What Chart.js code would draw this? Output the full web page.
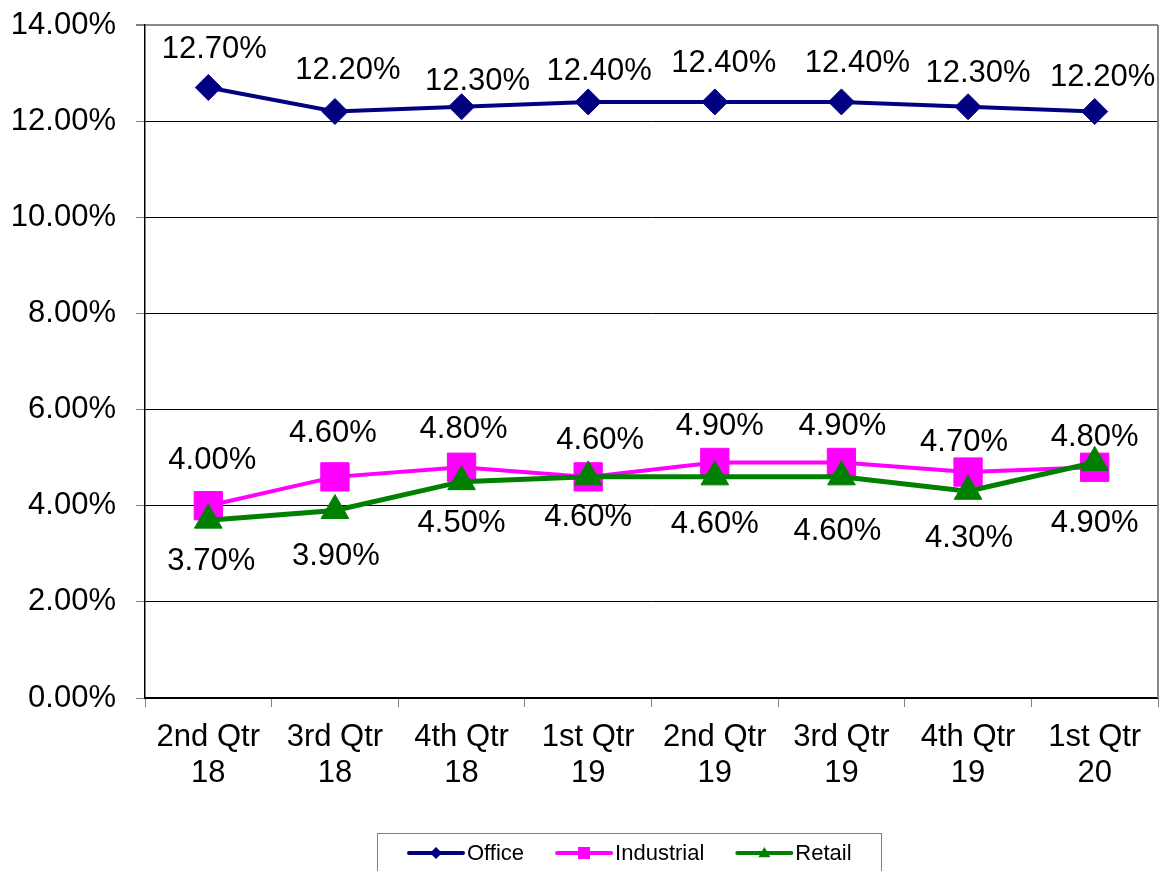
<!DOCTYPE html>
<html>
<head>
<meta charset="utf-8">
<script src="https://cdn.jsdelivr.net/npm/chart.js@4/dist/chart.umd.min.js"></script>
<style>
  html, body { margin: 0; padding: 0; background: #fff; }
  canvas { display: block; }
</style>
</head>
<body>
<canvas id="chart" width="1168" height="871"></canvas>
<script>
// quarters along the x axis
const quarters = [
  ['2nd Qtr', '18'], ['3rd Qtr', '18'], ['4th Qtr', '18'], ['1st Qtr', '19'],
  ['2nd Qtr', '19'], ['3rd Qtr', '19'], ['4th Qtr', '19'], ['1st Qtr', '20']
];

// rates in percent
const officeRates = [12.7, 12.2, 12.3, 12.4, 12.4, 12.4, 12.3, 12.2];
const industrialRates = [4.0, 4.6, 4.8, 4.6, 4.9, 4.9, 4.7, 4.8];
const retailRates = [3.7, 3.9, 4.5, 4.6, 4.6, 4.6, 4.3, 4.9];

const yTicks = [0, 2, 4, 6, 8, 10, 12, 14];

const FONT = 'Liberation Sans, Arial, sans-serif';

// where each value label sits relative to its point (px), as placed in the original
const labelNudge = [
  { dx: [6, 13, 16, 11, 9, 16, 10, 8], dy: [-38, -41, -25, -30, -38, -38, -33, -34] },
  { dx: [4, -2, 2, 12, 5, 1, -4, 0], dy: [-45, -43, -38, -36, -36, -36, -30, -30] },
  { dx: [3, 1, 0, 0, 0, -4, 1, 0], dy: [41, 46, 42, 41, 48, 55, 47, 61] }
];

const pointLabels = {
  id: 'pointLabels',
  afterDatasetsDraw(chart) {
    const ctx = chart.ctx;
    ctx.save();
    ctx.font = '31px ' + FONT;
    ctx.fillStyle = '#000';
    ctx.textAlign = 'center';
    ctx.textBaseline = 'middle';
    chart.data.datasets.forEach((ds, i) => {
      const meta = chart.getDatasetMeta(i);
      const n = labelNudge[i];
      meta.data.forEach((pt, j) => {
        ctx.fillText(ds.data[j].toFixed(2) + '%', pt.x + n.dx[j], pt.y + n.dy[j]);
      });
    });
    ctx.restore();
  }
};

function marker(ctx, style, x, y, r) {
  ctx.beginPath();
  if (style === 'rectRot') {
    ctx.moveTo(x - r, y); ctx.lineTo(x, y - r); ctx.lineTo(x + r, y); ctx.lineTo(x, y + r);
  } else if (style === 'rect') {
    ctx.rect(x - r, y - r, 2 * r, 2 * r);
  } else {
    ctx.moveTo(x, y - r); ctx.lineTo(x + r, y + r * 0.7); ctx.lineTo(x - r, y + r * 0.7);
  }
  ctx.closePath();
  ctx.fill();
}

// excel style legend box under the chart, plus the plot area right border
const boxLegend = {
  id: 'boxLegend',
  afterDraw(chart) {
    const ctx = chart.ctx;
    const area = chart.chartArea;
    ctx.save();
    ctx.strokeStyle = '#888';
    ctx.lineWidth = 2;
    ctx.beginPath();
    ctx.moveTo(area.right, area.top);
    ctx.lineTo(area.right, area.bottom);
    ctx.stroke();

    ctx.strokeStyle = '#808080';
    ctx.lineWidth = 1;
    ctx.strokeRect(377.5, 833.5, 504, 60);

    ctx.font = '22px ' + FONT;
    ctx.textBaseline = 'middle';
    ctx.textAlign = 'left';
    const sizes = [6, 6, 6];
    let x = 409;
    const y = 853;
    chart.data.datasets.forEach((ds, i) => {
      ctx.strokeStyle = ds.borderColor;
      ctx.fillStyle = ds.borderColor;
      ctx.lineWidth = 4;
      ctx.lineCap = 'round';
      ctx.beginPath();
      ctx.moveTo(x, y);
      ctx.lineTo(x + 54, y);
      ctx.stroke();
      marker(ctx, ds.pointStyle, x + 27, y, sizes[i]);
      ctx.fillStyle = '#000';
      ctx.fillText(ds.label, x + 58, y + 1);
      x += 58 + ctx.measureText(ds.label).width + 33;
    });
    ctx.restore();
  }
};

new Chart(document.getElementById('chart'), {
  type: 'line',
  data: {
    labels: quarters,
    datasets: [
      {
        label: 'Office',
        data: officeRates,
        borderColor: '#000080',
        backgroundColor: '#000080',
        borderWidth: 4,
        pointStyle: 'rectRot',
        pointRadius: 13,
        pointBorderWidth: 1,
        order: 2
      },
      {
        label: 'Industrial',
        data: industrialRates,
        borderColor: '#FF00FF',
        backgroundColor: '#FF00FF',
        borderWidth: 4,
        pointStyle: 'rect',
        pointRadius: 20,
        pointBorderWidth: 1,
        order: 1
      },
      {
        label: 'Retail',
        data: retailRates,
        borderColor: '#008000',
        backgroundColor: '#008000',
        borderWidth: 5,
        pointStyle: 'triangle',
        pointRadius: 16,
        pointBorderWidth: 1,
        order: 0
      }
    ]
  },
  options: {
    responsive: false,
    animation: false,
    events: [],
    layout: { autoPadding: false, padding: { top: 25, right: 10, left: 0, bottom: 0 } },
    plugins: {
      legend: { display: false },
      tooltip: { enabled: false }
    },
    scales: {
      x: {
        offset: true,
        afterFit: (scale) => {
          scale.height = 173;
          scale.paddingLeft = 0;
          scale.paddingRight = 0;
        },
        grid: {
          offset: true,
          drawOnChartArea: false,
          tickLength: 9,
          tickColor: '#808080'
        },
        border: { color: '#000', width: 1.5 },
        ticks: {
          color: '#000',
          padding: 13,
          maxRotation: 0,
          autoSkip: false,
          font: { family: FONT, size: 31, lineHeight: 1.15 }
        }
      },
      y: {
        min: 0,
        max: 14,
        afterFit: (scale) => {
          scale.width = 145;
          scale.paddingTop = 0;
          scale.paddingBottom = 0;
        },
        afterBuildTicks: (scale) => { scale.ticks = yTicks.map(v => ({ value: v })); },
        grid: {
          color: (c) => (c.tick && c.tick.value === 14 ? '#888' : '#000'),
          lineWidth: (c) => (c.tick && c.tick.value === 14 ? 2 : 1),
          tickLength: 9,
          tickColor: '#808080'
        },
        border: { color: '#000', width: 1.5 },
        ticks: {
          color: '#000',
          padding: 20,
          font: { family: FONT, size: 31 },
          callback: (v) => Number(v).toFixed(2) + '%'
        }
      }
    }
  },
  plugins: [pointLabels, boxLegend]
});
</script>
</body>
</html>
